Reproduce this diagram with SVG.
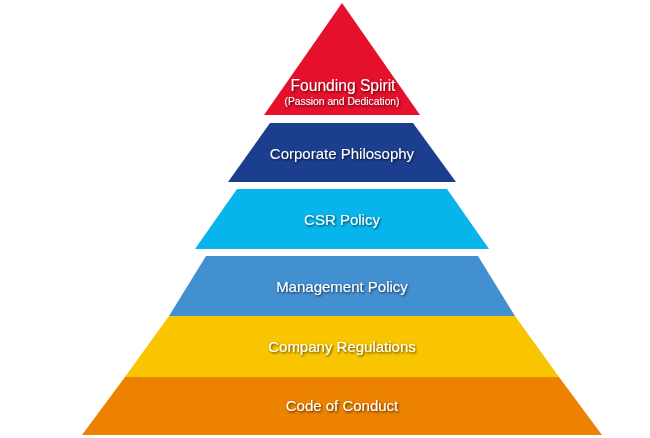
<svg xmlns="http://www.w3.org/2000/svg" width="650" height="438" viewBox="0 0 650 438">
<defs>
<filter id="sh" x="-10%" y="-30%" width="120%" height="160%">
<feDropShadow dx="1" dy="1.2" stdDeviation="0.9" flood-color="#000" flood-opacity="0.7"/>
</filter>
</defs>
<style>
text{font-family:"Liberation Sans",Arial,sans-serif;fill:#fff;text-anchor:middle;filter:url(#sh)}
.t{font-size:15px}
.f{font-size:15.6px}
.s{font-size:10.3px}
</style>
<rect width="650" height="438" fill="#fff"/>
<g id="founding-spirit">
<polygon points="342,3 420,115 264,115" fill="#E5102C"/>
<text class="f" x="343" y="91">Founding Spirit</text>
<text class="s" x="342" y="105">(Passion and Dedication)</text>
</g>
<g id="corporate-philosophy">
<polygon points="270,123 413,123 456,182 228,182" fill="#1C3E8E"/>
<text class="t" x="342" y="159">Corporate Philosophy</text>
</g>
<g id="csr-policy">
<polygon points="237,189 447,189 489,249 195,249" fill="#07B5EC"/>
<text class="t" x="342" y="225">CSR Policy</text>
</g>
<g id="management-policy">
<polygon points="206,256 478,256 515,316 169,316" fill="#4390D1"/>
<text class="t" x="342" y="292">Management Policy</text>
</g>
<g id="company-regulations">
<polygon points="169,316 515,316 559,377 125,377" fill="#F9C400"/>
<text class="t" x="342" y="352">Company Regulations</text>
</g>
<g id="code-of-conduct">
<polygon points="125,377 559,377 602,435 82,435" fill="#EC8200"/>
<text class="t" x="342" y="411">Code of Conduct</text>
</g>
<g id="connectors"/>
</svg>
